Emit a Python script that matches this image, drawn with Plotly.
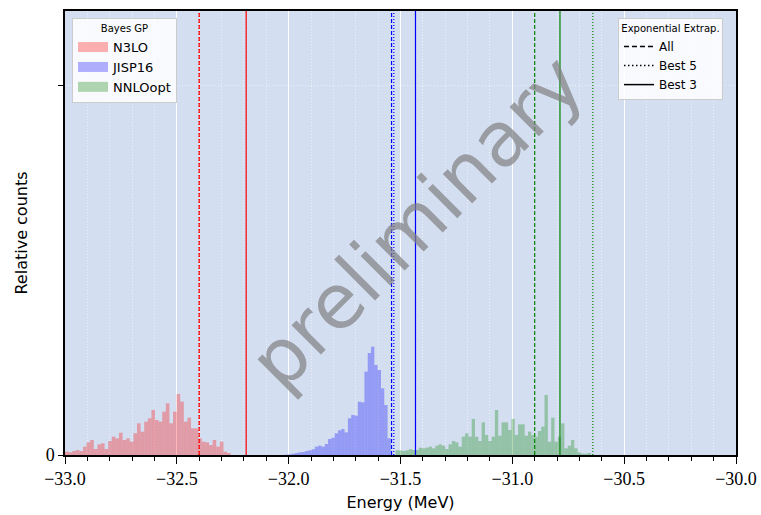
import plotly.graph_objects as go

# ---------------- data ----------------
series_names = ["N3LO", "JISP16", "NNLOopt"]
series_colors = ["255,0,0", "0,0,255", "0,128,0"]

red_start, red_width = -33.0, 0.0161
red_counts = [10, 8, 12, 15, 12, 25, 38, 45, 18, 32, 35, 18, 42, 55, 50, 67, 45, 50, 40, 65,
              95, 70, 100, 110, 135, 105, 100, 130, 155, 95, 130, 183, 160, 100, 112, 80, 80,
              50, 40, 38, 30, 45, 25, 40, 10, 6]

blue_start, blue_width = -32.016, 0.01478
blue_counts = [1, 2, 4, 6, 8, 9, 12, 14, 17, 25, 28, 25, 33, 48, 52, 65, 74, 78, 68, 110,
               120, 118, 160, 158, 250, 306, 325, 270, 255, 200, 150, 50]

green_start, green_width = -31.522, 0.0148
green_counts = [14, 14, 12, 14, 17, 15, 15, 22, 20, 22, 25, 20, 28, 32, 28, 18, 32, 42, 38, 25,
                55, 65, 55, 108, 55, 42, 98, 60, 42, 55, 135, 58, 98,
                98, 75, 108, 60, 92, 92, 58, 70, 60, 55, 72, 85, 180, 40, 112, 40, 55, 95,
                20, 28, 45, 20, 8, 4, 4, 6]

extrap_all = [-32.40, -31.54, -30.90]
extrap_best5 = [-32.40, -31.53, -30.64]
extrap_best3 = [-32.19, -31.433, -30.787]
extrap_names = ["All", "Best 5", "Best 3"]
extrap_dash = ["4px,2px", "1px,2px", "solid"]
legend_dash = ["5px,3px", "1.5px,2.5px", "solid"]

x_tick_vals = [-33.0, -32.5, -32.0, -31.5, -31.0, -30.5, -30.0]
y_tick_vals = [0, 1110]
y_tick_text = ["0", ""]
y_max = 1332
x_range = [-33.0, -30.0]

# ---------------- figure ----------------
fig = go.Figure()

hist_sets = [(red_start, red_width, red_counts),
             (blue_start, blue_width, blue_counts),
             (green_start, green_width, green_counts)]

for (start, w, counts), col in zip(hist_sets, series_colors):
    centers = [start + w * (i + 0.5) for i in range(len(counts))]
    fig.add_trace(go.Bar(x=centers, y=counts, width=w,
                         marker=dict(color=f"rgba({col},0.3)", line=dict(width=0)),
                         showlegend=False, hoverinfo="skip"))

# legend 1 entries (patches)
for name, col in zip(series_names, series_colors):
    fig.add_trace(go.Scatter(x=[None], y=[None], mode="lines", name=name,
                             line=dict(color=f"rgba({col},0.3)", width=10),
                             legend="legend"))

# legend 2 entries (line styles)
for name, dsh in zip(extrap_names, legend_dash):
    fig.add_trace(go.Scatter(x=[None], y=[None], mode="lines", name=name,
                             line=dict(color="black", width=1.5, dash=dsh),
                             legend="legend2"))

# vertical extrapolation lines
line_cols = ["rgb(255,0,0)", "rgb(0,0,255)", "rgb(0,128,0)"]
for vals, dsh in zip([extrap_all, extrap_best5, extrap_best3], extrap_dash):
    for v, c in zip(vals, line_cols):
        fig.add_shape(type="line", x0=v, x1=v, y0=0, y1=1, xref="x", yref="paper",
                      line=dict(color=c, width=1.2, dash=dsh))

fig.add_annotation(text="preliminary", x=0.524, y=0.525, xref="paper", yref="paper",
                   showarrow=False, textangle=-45,
                   font=dict(family="DejaVu Sans", size=76, color="rgba(128,128,128,0.7)"))

tick_font = dict(family="Liberation Serif, DejaVu Serif, serif", size=18)

fig.update_layout(
    width=761, height=515,
    margin=dict(l=65, r=25, t=11, b=60),
    paper_bgcolor="white",
    plot_bgcolor="rgb(211,222,240)",
    barmode="overlay",
    font=dict(family="DejaVu Sans", color="black"),
    legend=dict(x=0.0104, y=0.984, xanchor="left", yanchor="top",
                bgcolor="rgba(255,255,255,0.85)", bordercolor="#cccccc", borderwidth=1,
                font=dict(size=13, family="DejaVu Sans"),
                title=dict(text="Bayes GP", side="top center", font=dict(size=10)),
                itemwidth=30, tracegroupgap=0),
    legend2=dict(x=0.9806, y=0.984, xanchor="right", yanchor="top",
                 bgcolor="rgba(255,255,255,0.85)", bordercolor="#cccccc", borderwidth=1,
                 font=dict(size=12, family="DejaVu Sans"),
                 title=dict(text="Exponential Extrap.", side="top center", font=dict(size=10)),
                 itemwidth=30, tracegroupgap=0),
)

fig.update_xaxes(
    automargin=False,
    range=x_range, tickvals=x_tick_vals, tickformat=".1f",
    ticks="outside", ticklen=7, tickwidth=1.2, tickcolor="black",
    tickfont=tick_font,
    showline=True, linecolor="black", linewidth=1.5, mirror=True,
    showgrid=True, gridcolor="white", gridwidth=1.2,
    minor=dict(dtick=0.1, ticks="outside", ticklen=4, tickcolor="black",
               showgrid=True, gridcolor="rgba(255,255,255,0.6)", griddash="1px,2px", gridwidth=1),
    title=dict(text="Energy (MeV)", font=dict(size=16, family="DejaVu Sans"), standoff=8),
    zeroline=False,
)
fig.update_yaxes(
    automargin=False,
    range=[0, y_max], tickvals=y_tick_vals, ticktext=y_tick_text,
    ticks="outside", ticklen=5, tickwidth=1.2, tickcolor="black",
    tickfont=tick_font,
    showline=True, linecolor="black", linewidth=1.5, mirror=True,
    showgrid=True, gridcolor="rgba(255,255,255,0.6)", griddash="1px,2px",
    title=dict(text="Relative counts", font=dict(size=16, family="DejaVu Sans"), standoff=14),
    zeroline=False,
)

fig.write_html("out.html")
